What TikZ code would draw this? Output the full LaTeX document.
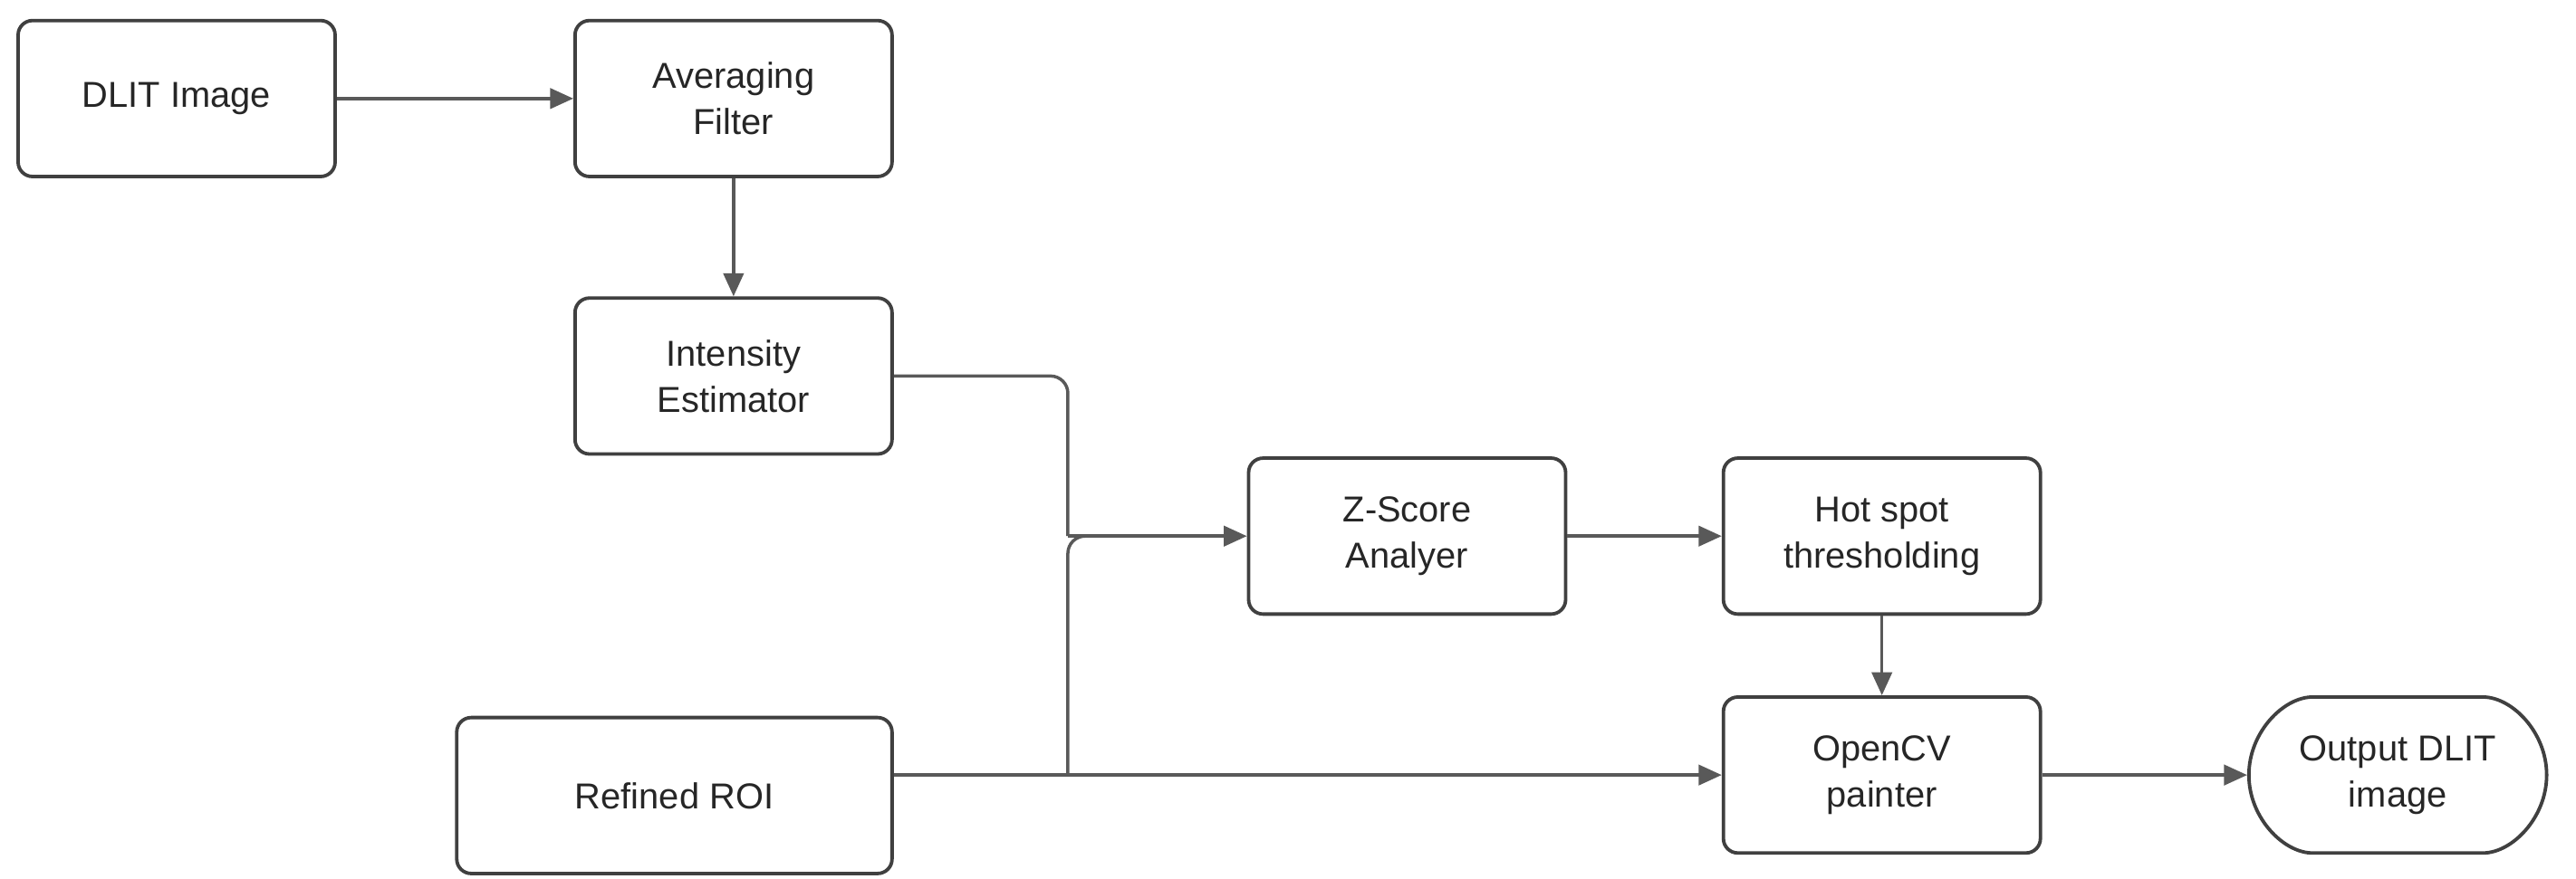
\documentclass[tikz,border=0pt]{standalone}
\usepackage{fontspec}
\setmainfont{Liberation Sans}
\usetikzlibrary{arrows.meta,shapes.misc}
\begin{document}
\begin{tikzpicture}[x=0.02cm,y=-0.02cm,
  box/.style={draw=black!75,line width=1.2pt,rounded corners=5pt,minimum width=3.86cm,minimum height=1.9cm,align=center,font=\fontsize{12.5}{16}\selectfont,text=black!85},
  arr/.style={draw=black!65,line width=1.1pt,-{Triangle[length=8pt,width=7pt]}},
  ln/.style={draw=black!65,line width=1.1pt}]
\useasboundingbox (0,0) rectangle (1568,535);
\node[box] (dlit) at (107.5,60) {DLIT Image};
\node[box] (avg) at (446.5,60) {Averaging\\Filter};
\node[box] (int) at (446.5,229) {Intensity\\Estimator};
\node[box] (z) at (856.5,326.5) {Z-Score\\Analyer};
\node[box] (hot) at (1145.5,326.5) {Hot spot\\thresholding};
\node[box,minimum width=5.3cm] (roi) at (410.5,484.5) {Refined ROI};
\node[box] (cv) at (1145.5,472) {OpenCV\\painter};
\node[box,rounded rectangle] (out) at (1459.5,472) {Output DLIT\\image};
\coordinate (j) at (650,326.5);
\draw[arr] (dlit) -- (avg);
\draw[arr] (avg) -- (int);
\draw[ln,rounded corners=6pt] (int.east) -- (650,229) -- (j);
\draw[arr] (j) -- (z);
\draw[arr] (hot) -- (cv);
\draw[arr] (roi.east |- 0,472) -- (cv.west);
\draw[ln,rounded corners=6pt] (650,472) -- (j) -- (670,326.5);
\draw[arr] (z) -- (hot);
\draw[arr] (cv) -- (out);
\end{tikzpicture}
\end{document}
